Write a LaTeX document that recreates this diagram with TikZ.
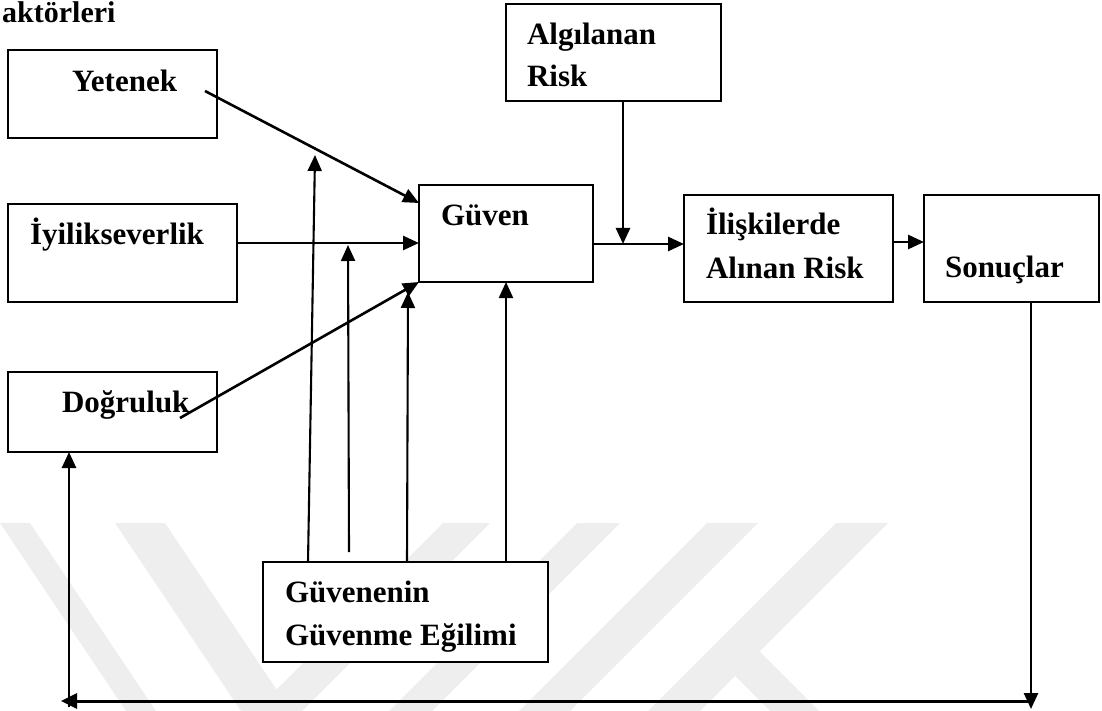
\documentclass[tikz,border=0pt]{standalone}
\usepackage{fontspec}
\setmainfont{Liberation Serif}
\usetikzlibrary{arrows.meta}
\definecolor{wmgray}{RGB}{238,238,238}
\tikzset{
  box/.style={draw, line width=2.6pt, fill=white, rectangle, inner sep=0pt,
              outer sep=0pt, anchor=north west},
  lbl/.style={anchor=base west, inner sep=0pt, outer sep=0pt,
              font=\fontsize{31}{42}\selectfont\bfseries},
  arr/.style={line width=2.6pt, -{Triangle[length=16pt,width=14pt]}},
  riser/.style={line width=2.1pt, -{Triangle[length=16pt,width=14pt]}},
  loopline/.style={line width=3pt, -{Triangle[length=16pt,width=15pt]}},
  wm/.style={fill=wmgray, draw=none},
}
\begin{document}
\begin{tikzpicture}[x=1pt, y=-1pt]
\useasboundingbox (0,0) rectangle (1102,711);

% faint background logo stripes
\begin{scope}
  \clip (0,0) rectangle (1102,711);
  \path[wm] (0,523) -- (30,523) -- (164,723) -- (134,723) -- cycle;
  \path[wm] (115,523) -- (165,523) -- (299,723) -- (249,723) -- cycle;
  \path[wm] (443,523) -- (490,523) -- (290,723) -- (243,723) -- cycle;
  \path[wm] (577,523) -- (620,523) -- (420,723) -- (377,723) -- cycle;
  \path[wm] (707,523) -- (758,523) -- (558,723) -- (507,723) -- cycle;
  \path[wm] (836,523) -- (888,523) -- (688,723) -- (636,723) -- cycle;
  \path[wm] (734,675) -- (759,651) -- (831,723) -- (782,723) -- cycle;
\end{scope}

% heading fragment
\node[anchor=base west, inner sep=0pt, font=\fontsize{30}{36}\selectfont\bfseries]
  (head) at (2,23) {aktörleri};

% boxes
\node[box, minimum width=209pt, minimum height=88pt]  (yet) at (8,50) {};
\node[box, minimum width=229pt, minimum height=98pt]  (iyi) at (8,204) {};
\node[box, minimum width=209pt, minimum height=80pt]  (dog) at (8,372) {};
\node[box, minimum width=174pt, minimum height=97pt]  (guv) at (419,185) {};
\node[box, minimum width=215pt, minimum height=97pt]  (alg) at (506,4) {};
\node[box, minimum width=209pt, minimum height=107pt] (ili) at (684,195) {};
\node[box, minimum width=175pt, minimum height=107pt] (son) at (924,195) {};
\node[box, minimum width=285pt, minimum height=100pt] (egi) at (263,562) {};

% box texts
\node[lbl] (tYet) at (72,92)   {Yetenek};
\node[lbl] (tIyi) at (30,245)  {İyilikseverlik};
\node[lbl] (tDog) at (62,412)  {Doğruluk};
\node[lbl] (tGuv) at (441,226) {Güven};
\node[lbl] (tAlg1) at (527,45) {Algılanan};
\node[lbl] (tAlg2) at (527,87) {Risk};
\node[lbl] (tIli1) at (706,235) {İlişkilerde};
\node[lbl] (tIli2) at (706,278) {Alınan Risk};
\node[lbl] (tSon) at (945,277) {Sonuçlar};
\node[lbl] (tEgi1) at (285,602) {Güvenenin};
\node[lbl] (tEgi2) at (285,645) {Güvenme Eğilimi};

% connector end points
\coordinate (yetOut)  at (205,91);
\coordinate (guvInA)  at (419,203);
\coordinate (iyiOut)  at (237,243);
\coordinate (guvInB)  at (419,243);
\coordinate (dogOut)  at (180,418);
\coordinate (guvOut)  at (593,244);
\coordinate (iliIn)   at (684,244);
\coordinate (algOut)  at (623,101);
\coordinate (algTip)  at (623,244);
\coordinate (iliOut)  at (893,242);
\coordinate (sonIn)   at (924,242);
\coordinate (sonOut)  at (1031,302);
\coordinate (sonTip)  at (1031,709);
\coordinate (loopR)   at (1031,701);
\coordinate (loopL)   at (61,701);
\coordinate (upFoot)  at (69,707);
\coordinate (dogIn)   at (69,452);
\coordinate (r1foot)  at (308,562);
\coordinate (r1tip)   at (315,155);
\coordinate (r2foot)  at (349,552);
\coordinate (r2tip)   at (348,245);
\coordinate (r3foot)  at (407,562);
\coordinate (r3tip)   at (408,292);
\coordinate (r4foot)  at (506,562);
\coordinate (r4tip)   at (506,282);

% antecedents of trust
\draw[arr] (yetOut) -- (guvInA);
\draw[arr] (iyiOut) -- (guvInB);
\draw[arr] (dogOut) -- (guv.south west);

% propensity to trust
\draw[riser] (r1foot) -- (r1tip);
\draw[riser] (r2foot) -- (r2tip);
\draw[riser] (r3foot) -- (r3tip);
\draw[riser] (r4foot) -- (r4tip);

% trust -> risk taking -> outcomes
\draw[arr] (guvOut) -- (iliIn);
\draw[arr] (algOut) -- (algTip);
\draw[arr] (iliOut) -- (sonIn);

% feedback loop
\draw[arr] (sonOut) -- (sonTip);
\draw[loopline] (loopR) -- (loopL);
\draw[arr] (upFoot) -- (dogIn);
\end{tikzpicture}
\end{document}
